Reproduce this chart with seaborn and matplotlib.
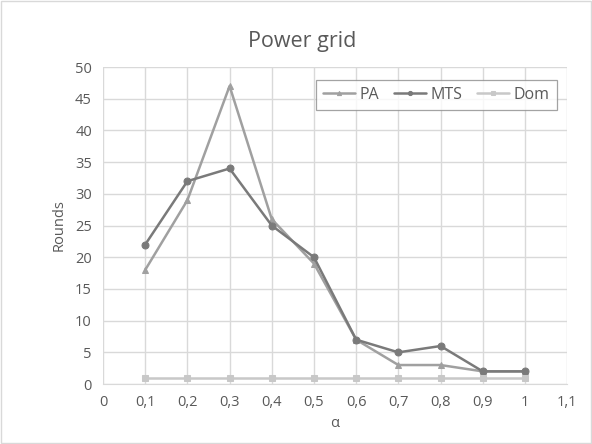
import matplotlib
matplotlib.use("Agg")
import matplotlib.pyplot as plt
import seaborn as sns
import pandas as pd

alpha = [0.1, 0.2, 0.3, 0.4, 0.5, 0.6, 0.7, 0.8, 0.9, 1.0]
pa = [18, 29, 47, 26, 19, 7, 3, 3, 2, 2]
mts = [22, 32, 34, 25, 20, 7, 5, 6, 2, 2]
dom = [1, 1, 1, 1, 1, 1, 1, 1, 1, 1]
x_ticks = [0, 0.1, 0.2, 0.3, 0.4, 0.5, 0.6, 0.7, 0.8, 0.9, 1.0, 1.1]
x_labels = ["0", "0,1", "0,2", "0,3", "0,4", "0,5", "0,6", "0,7", "0,8", "0,9", "1", "1,1"]
y_ticks = [0, 5, 10, 15, 20, 25, 30, 35, 40, 45, 50]

sns.set_style("white")
plt.rcParams['font.family'] = ['Open Sans', 'DejaVu Sans']

fig = plt.figure(figsize=(5.92, 4.44), dpi=100)
ax = fig.add_axes([0.174, 0.135, 0.784, 0.714])

series = [("PA", pa, "#a0a0a0", "^", 5),
          ("MTS", mts, "#7a7a7a", "o", 5),
          ("Dom", dom, "#c8c8c8", "s", 5)]
for name, vals, col, mk, ms in series:
    df = pd.DataFrame({"alpha": alpha, "val": vals})
    sns.lineplot(data=df, x="alpha", y="val", ax=ax, color=col, marker=mk,
                 markersize=ms, markeredgecolor=col, linewidth=1.8, label=name)

ax.set_xlim(0, 1.1)
ax.set_ylim(0, 50)
ax.set_xticks(x_ticks)
ax.set_xticklabels(x_labels)
ax.set_yticks(y_ticks)
ax.grid(True, color="#d9d9d9", linewidth=1)
ax.set_axisbelow(True)
for s in ["top", "right"]:
    ax.spines[s].set_visible(False)
ax.spines["left"].set_visible(False)
ax.spines["bottom"].set_color("#d9d9d9")
ax.tick_params(axis="both", length=0, labelsize=10.5, colors="#595959", pad=8)
ax.set_xlabel("α", fontsize=10.5, color="#595959", labelpad=4)
ax.set_ylabel("Rounds", fontsize=10.5, color="#595959", labelpad=6)
fig.suptitle("Power grid", x=0.51, y=0.93, fontsize=15.5, color="#595959")

leg = ax.legend(loc="upper right", bbox_to_anchor=(0.995, 0.985), ncol=3,
                frameon=True, fontsize=11.5, handlelength=2.0, columnspacing=0.9,
                handletextpad=0.3, borderpad=0.45, fancybox=False, markerscale=0.6)
leg.get_frame().set_edgecolor("#8c8c8c")
leg.get_frame().set_linewidth(0.9)
for t in leg.get_texts():
    t.set_color("#595959")

border = plt.Rectangle((0.002, 0.002), 0.996, 0.996, transform=fig.transFigure,
                       fill=False, edgecolor="#d9d9d9", linewidth=1)
fig.patches.append(border)

fig.savefig("out.png", dpi=100)
